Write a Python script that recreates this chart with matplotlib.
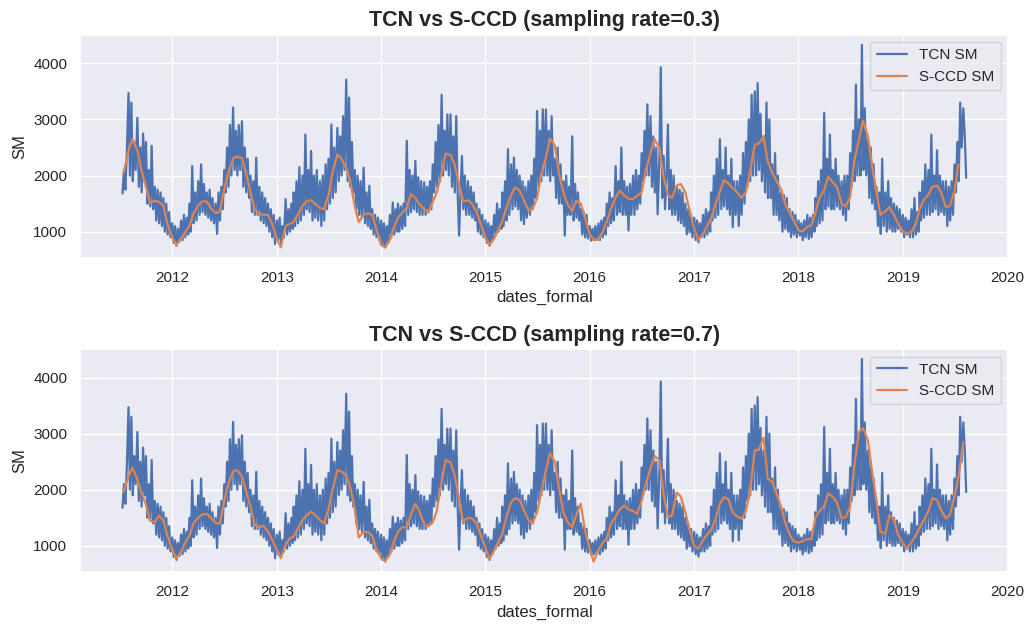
import numpy as np
import pandas as pd
import matplotlib
matplotlib.use("Agg")
import matplotlib.pyplot as plt
import seaborn as sns

# ---------------- data ----------------
# TCN SM: 6 readings per month (days 1, 6, 11, 16, 21, 26); series starts 2011-07-11
tcn_2011 = [1680, 2100, 1750, 2400,
            3470, 2000, 3300, 1900, 2600, 2100,
            3030, 1800, 2500, 1700, 2750, 1900,
            2600, 1500, 2100, 1450, 2530, 1400,
            1800, 1200, 1750, 1150, 1700, 1100,
            1600, 1000, 1500, 950, 1350, 900]
tcn_2012 = [1150, 800, 1100, 750, 1050, 820,
            1200, 850, 1300, 900, 1250, 950,
            1500, 1000, 2170, 1150, 1700, 1200,
            1900, 1300, 2200, 1350, 1850, 1300,
            1700, 1250, 1750, 1200, 1600, 1150,
            1500, 960, 1700, 1200, 1800, 1400,
            2100, 1700, 2500, 1800, 2900, 2000,
            3210, 2100, 2800, 2000, 2900, 2100,
            2970, 1800, 2500, 1700, 2300, 1600,
            2000, 1350, 1900, 1300, 2320, 1300,
            1800, 1200, 1700, 1150, 1600, 1100,
            1500, 1000, 1400, 900, 1300, 780]
tcn_2013 = [1200, 850, 1250, 800, 1100, 900,
            1580, 950, 1400, 1000, 1500, 1050,
            1700, 1100, 1900, 1150, 2150, 1200,
            2000, 1300, 2730, 1400, 2100, 1350,
            2440, 1200, 2000, 1250, 2100, 1200,
            1900, 1100, 2000, 1200, 2200, 1400,
            2300, 1500, 2910, 1600, 2500, 1700,
            2850, 1900, 2700, 2000, 3060, 2100,
            3710, 1900, 3390, 1800, 2600, 1700,
            2100, 1400, 2000, 1300, 1900, 1250,
            2140, 1150, 1700, 1100, 1820, 1050,
            1400, 950, 1300, 900, 1250, 850]
tcn_2014 = [1200, 750, 1150, 720, 1100, 800,
            1300, 900, 1520, 950, 1400, 1000,
            1500, 1000, 1450, 1050, 1500, 1100,
            2620, 1300, 2100, 1350, 2000, 1400,
            2260, 1350, 1970, 1300, 1900, 1300,
            1880, 1300, 1800, 1350, 1900, 1400,
            2200, 1700, 2600, 1800, 2900, 1900,
            3440, 2000, 2800, 2100, 3090, 2000,
            3090, 1800, 2700, 1700, 3060, 1700,
            930, 1700, 2350, 1400, 2000, 1300,
            1900, 1300, 1800, 1250, 1700, 1200,
            1500, 1000, 1400, 950, 1300, 900]
tcn_2015 = [1200, 800, 1150, 750, 1100, 850,
            1300, 950, 1500, 1000, 1400, 1050,
            1700, 1100, 1900, 1200, 2470, 1300,
            2200, 1400, 2320, 1450, 2100, 1400,
            2000, 1200, 1900, 1135, 1800, 1250,
            1900, 1300, 2000, 1400, 2300, 1600,
            3150, 1800, 2800, 1900, 3180, 2000,
            3180, 2000, 2800, 1900, 3060, 2000,
            2300, 1600, 2500, 1500, 2200, 1500,
            1900, 930, 2000, 1300, 1800, 1300,
            2700, 1200, 1850, 1250, 1700, 1200,
            1400, 950, 1350, 900, 1300, 880]
tcn_2016 = [1100, 840, 1050, 850, 1100, 860,
            1150, 850, 1200, 900, 1250, 950,
            1500, 1100, 1700, 1150, 1600, 1200,
            2170, 1300, 1900, 1350, 2500, 1300,
            1900, 1300, 1800, 1020, 1850, 1300,
            2000, 1300, 2100, 1400, 2000, 1500,
            2400, 1900, 2800, 2000, 3270, 2000,
            3060, 1800, 2700, 1700, 2500, 1310,
            2300, 3930, 1600, 2350, 1400, 2000,
            2910, 1400, 2100, 1300, 2000, 1300,
            1800, 1200, 1750, 1150, 1700, 1100,
            1500, 950, 1400, 990, 1300, 900]
tcn_2017 = [1250, 850, 1200, 810, 1150, 900,
            1300, 900, 1400, 950, 1350, 1000,
            1700, 1200, 2000, 1250, 2300, 1300,
            2650, 1400, 2100, 1450, 2500, 1400,
            2000, 1300, 2300, 1080, 1900, 1300,
            1900, 1100, 2000, 1300, 2400, 1500,
            2600, 1800, 3000, 1900, 3440, 2000,
            3500, 2000, 3650, 2100, 3100, 1900,
            2700, 1700, 3300, 1600, 3000, 1600,
            2200, 1300, 2400, 1300, 2000, 1200,
            1700, 1000, 1650, 1050, 1600, 1000,
            1400, 900, 1350, 950, 1300, 900]
tcn_2018 = [1200, 930, 1150, 850, 1200, 900,
            1300, 870, 1250, 900, 1300, 1000,
            1600, 1100, 1900, 1150, 2100, 1200,
            3120, 1400, 2300, 1450, 2730, 1400,
            2100, 1400, 2300, 1450, 2000, 1400,
            1900, 1300, 2000, 1200, 2000, 1400,
            2400, 1800, 2800, 1900, 3620, 2000,
            3000, 2000, 4330, 2100, 3200, 2000,
            2700, 1600, 2500, 1500, 2200, 1400,
            1800, 1100, 1700, 960, 2300, 1100,
            1700, 1000, 1900, 1050, 1600, 1000,
            1500, 1000, 1450, 1050, 1400, 1000]
tcn_2019 = [1300, 900, 1250, 950, 1200, 900,
            1400, 900, 1600, 950, 1350, 1000,
            1700, 1200, 1900, 1250, 2200, 1300,
            2100, 1300, 2730, 1350, 2000, 1400,
            2450, 1300, 2000, 1350, 1900, 1300,
            1900, 1100, 1800, 1200, 1900, 1300,
            2200, 1700, 2600, 1900, 3300, 2500,
            3200, 2700, 1960]

# S-CCD SM, semi-monthly (1st and 15th), starting 2011-07-15
sccd_03 = [2050, 2450, 2650, 2450, 2100, 1800, 1520, 1550, 1530, 1460, 1140,
           900, 760, 880, 990, 1100, 1320, 1470, 1540, 1540, 1420, 1330, 1360,
           1750, 2050, 2300, 2340, 2310, 2050, 1700, 1400, 1320, 1300, 1300, 1150,
           880, 720, 1100, 1140, 1170, 1300, 1460, 1540, 1560, 1500, 1420, 1400,
           1650, 2050, 2380, 2300, 2130, 1900, 1450, 1170, 1300, 1330, 1300, 1050,
           760, 720, 860, 1080, 1250, 1330, 1420, 1670, 1600, 1490, 1400, 1340,
           1530, 1700, 2050, 2390, 2370, 2200, 1850, 1540, 1560, 1500, 1360, 1150,
           900, 760, 880, 1030, 1180, 1420, 1650, 1790, 1730, 1570, 1380, 1400,
           1600, 1990, 2330, 2660, 2540, 2050, 1700, 1500, 1360, 1550, 1500, 1260,
           960, 850, 860, 990, 1180, 1400, 1610, 1730, 1650, 1590, 1580, 1640,
           1700, 2080, 2400, 2650, 2500, 2000, 1650, 1600, 1820, 1850, 1700, 1400,
           1050, 860, 960, 1100, 1230, 1470, 1720, 1920, 1860, 1780, 1700, 1600,
           1700, 2050, 2550, 2570, 2700, 2250, 2050, 1920, 1750, 1500, 1340, 1200,
           1030, 1000, 1090, 1110, 1330, 1600, 1740, 1980, 1880, 1800, 1500, 1450,
           1620, 2250, 2650, 2980, 2700, 2200, 1700, 1300, 1360, 1440, 1300, 1150,
           1000, 970, 1000, 1130, 1400, 1560, 1660, 1800, 1820, 1700, 1440, 1460,
           1720, 2200]
sccd_07 = [1960, 2250, 2390, 2180, 1950, 1740, 1450, 1420, 1540, 1450, 1180,
           940, 770, 900, 1050, 1180, 1400, 1500, 1560, 1570, 1500, 1410, 1390,
           1800, 2100, 2330, 2350, 2240, 1980, 1700, 1380, 1330, 1360, 1260, 1120,
           930, 780, 1020, 1130, 1170, 1300, 1460, 1540, 1610, 1550, 1460, 1400,
           1650, 2000, 2350, 2330, 2250, 2050, 1650, 1150, 1250, 1250, 1180, 950,
           780, 730, 850, 1080, 1250, 1330, 1330, 1550, 1750, 1620, 1380, 1350,
           1420, 1620, 2150, 2530, 2490, 2270, 1850, 1430, 1500, 1490, 1400, 1200,
           980, 760, 920, 1070, 1210, 1500, 1780, 1850, 1820, 1650, 1460, 1400,
           1600, 1930, 2350, 2650, 2500, 2050, 1600, 1430, 1330, 1550, 1750, 1300,
           950, 720, 920, 1050, 1130, 1390, 1520, 1650, 1720, 1650, 1620, 1570,
           1800, 2100, 2380, 2600, 2530, 1950, 1510, 1540, 1950, 1880, 1600, 1300,
           1000, 950, 1100, 1200, 1280, 1450, 1750, 1870, 1830, 1600, 1520, 1480,
           1620, 1950, 2700, 2710, 2930, 2200, 2140, 1950, 1700, 1420, 1200, 1080,
           1060, 1080, 1120, 1120, 1500, 1620, 1700, 1940, 1870, 1780, 1490, 1510,
           1700, 2400, 3030, 3100, 2880, 2350, 1800, 1250, 1220, 1550, 1470, 1200,
           1060, 950, 1070, 1180, 1320, 1450, 1620, 1850, 1820, 1640, 1490, 1550,
           1880, 2230, 2850]

tcn_values = (tcn_2011 + tcn_2012 + tcn_2013 + tcn_2014 + tcn_2015 +
              tcn_2016 + tcn_2017 + tcn_2018 + tcn_2019)
rates = ["0.3", "0.7"]

# ---------------- dates ----------------
months = pd.date_range("2011-07-01", "2019-08-01", freq="MS")
grid = [m + pd.Timedelta(days=d) for m in months for d in (0, 5, 10, 15, 20, 25)]
tcn_dates = pd.DatetimeIndex(grid[2:2 + len(tcn_values)])
sccd_dates_03 = pd.date_range("2011-07-15", periods=len(sccd_03), freq="SMS")
sccd_dates_07 = pd.date_range("2011-07-15", periods=len(sccd_07), freq="SMS")

# ---------------- plot ----------------
sns.set_theme(style="darkgrid")
plt.rcParams["font.family"] = ["Liberation Sans", "DejaVu Sans"]

fig, axes = plt.subplots(2, 1, figsize=(10.3, 6.31), dpi=100)
fig.subplots_adjust(left=0.078, right=0.979, top=0.945, bottom=0.094, hspace=0.41)

for ax, rate, sdates, svals in zip(axes, rates, [sccd_dates_03, sccd_dates_07], [sccd_03, sccd_07]):
    ax.plot(tcn_dates, tcn_values, color="#4c72b0", lw=1.6, label="TCN SM")
    ax.plot(sdates, svals, color="#dd8452", lw=1.6, label="S-CCD SM")
    ax.set_title(f"TCN vs S-CCD (sampling rate={rate})", fontsize=15.5, fontweight="bold")
    ax.set_xlabel("dates_formal")
    ax.set_ylabel("SM")
    ax.set_yticks([1000, 2000, 3000, 4000])
    ax.legend(loc="upper right")

fig.savefig("out.png", dpi=100)
